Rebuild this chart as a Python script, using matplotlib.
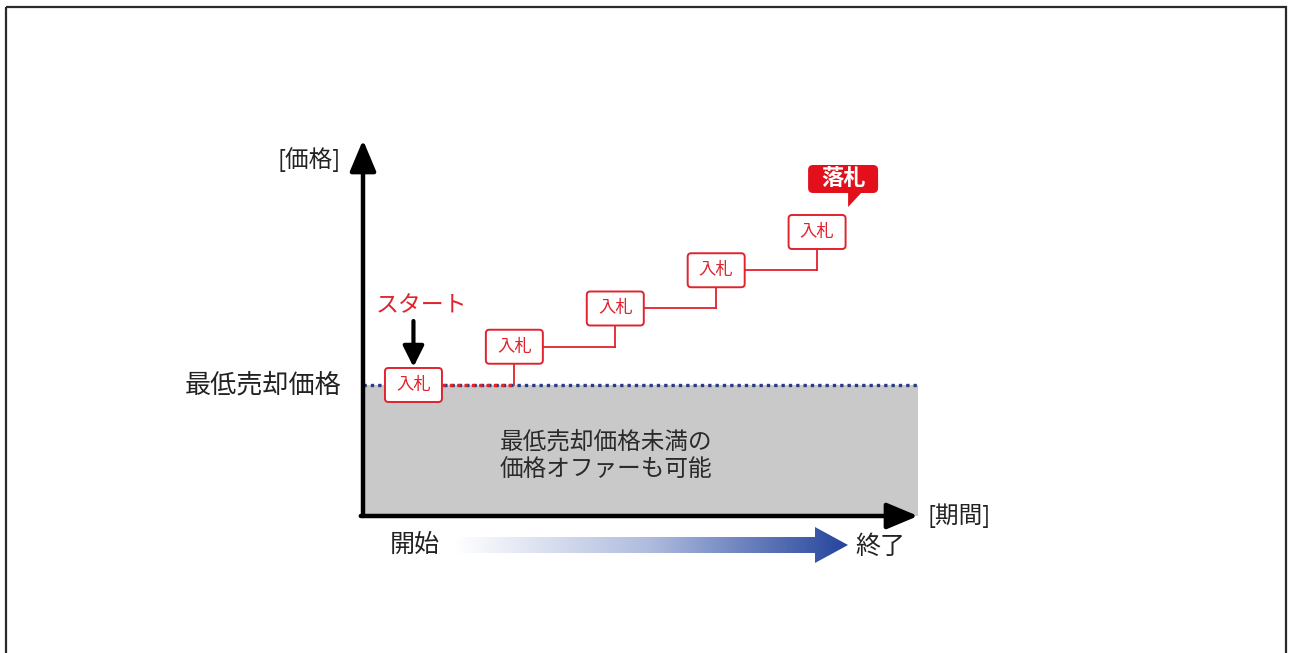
import numpy as np
import matplotlib
matplotlib.use('Agg')
import matplotlib.pyplot as plt
from matplotlib.patches import FancyBboxPatch, Polygon, Rectangle
from matplotlib.colors import LinearSegmentedColormap

plt.rcParams['font.family'] = ['Noto Sans CJK JP', 'DejaVu Sans']

# --------------------------------------------------------------
# Data
# --------------------------------------------------------------
bid_periods = [0.5, 1.5, 2.5, 3.5, 4.5]
bid_prices = [100, 110, 120, 130, 140]
reserve_price = 100
bid_label = '入札'
win_label = '落札'
start_label = 'スタート'
reserve_label = '最低売却価格'
below_label = '最低売却価格未満の\n価格オファーも可能'
y_label = '[価格]'
x_label = '[期間]'
begin_label = '開始'
end_label = '終了'

X_MAX = 5.5
Y_MIN, Y_MAX = 65.75, 164.05

RED = '#e0232d'
BLUE_DOT = '#2a3c82'
W, H = 1290, 653

fig = plt.figure(figsize=(W / 100, H / 100), dpi=100)

# background overlay in pixel coordinates (y down)
bg = fig.add_axes([0, 0, 1, 1])
bg.set_xlim(0, W)
bg.set_ylim(H, 0)
bg.axis('off')
bg.add_patch(Rectangle((6, 7), 1280, 680, fill=False, ec='#2a2a2a', lw=1.6))

# main chart axes
L, R, T, B = 363, 918, 140, 516
ax = fig.add_axes([L / W, (H - B) / H, (R - L) / W, (B - T) / H])
ax.set_xlim(0, X_MAX)
ax.set_ylim(Y_MIN, Y_MAX)
ax.patch.set_visible(False)
for s in ax.spines.values():
    s.set_visible(False)
ax.set_xticks([])
ax.set_yticks([])


def to_bg(x, y):
    dx, dy = ax.transData.transform((x, y))
    return dx, H - dy


# data units per pixel
px_x = X_MAX / (R - L)
px_y = (Y_MAX - Y_MIN) / (B - T)
box_w, box_h = 57 * px_x, 34 * px_y

# shaded zone below reserve price
ax.fill_between([0, X_MAX], Y_MIN, reserve_price, color='#c9c9c9', lw=0, zorder=1)
ax.plot([0, X_MAX], [reserve_price, reserve_price], color=BLUE_DOT, lw=2.4,
        ls=(0, (1, 1.2)), zorder=2)

# staircase connectors
for i in range(len(bid_periods) - 1):
    x0 = bid_periods[i] + box_w / 2
    x1 = bid_periods[i + 1]
    y0 = bid_prices[i]
    y1 = bid_prices[i + 1] - box_h / 2
    if i == 0:
        ax.plot([x0, x1], [y0, y0], color=RED, lw=2.4, ls=(0, (1, 1.2)), zorder=3)
    else:
        ax.plot([x0, x1], [y0, y0], color=RED, lw=1.3, zorder=3)
    ax.plot([x1, x1], [y0, y1], color=RED, lw=1.3, zorder=3)

# bid boxes
aspect = px_y / px_x
for t, p in zip(bid_periods, bid_prices):
    ax.add_patch(FancyBboxPatch((t - box_w / 2, p - box_h / 2), box_w, box_h,
                                boxstyle='round,pad=0,rounding_size=0.035',
                                mutation_aspect=aspect, fc='white', ec=RED,
                                lw=1.4, zorder=4))
    ax.text(t, p, bid_label, color=RED, fontsize=12.5, ha='center',
            va='center', zorder=5)

# axes arrows
arrow_kw = dict(arrowstyle='-|>,head_length=1.0,head_width=0.42', color='black',
                lw=3.2, mutation_scale=19, shrinkA=0, shrinkB=0)
ax.annotate('', xy=(0, 1), xytext=(0, 0), xycoords='axes fraction',
            arrowprops=arrow_kw, annotation_clip=False, zorder=6)
ax.annotate('', xy=(1, 0), xytext=(-0.004, 0), xycoords='axes fraction',
            arrowprops=arrow_kw, annotation_clip=False, zorder=6)

# labels
txt = '#222222'
ax.annotate(y_label, xy=(0, 1), xycoords='axes fraction', xytext=(-22, -20),
            textcoords='offset pixels', ha='right', va='center', fontsize=17,
            color=txt)
ax.annotate(reserve_label, xy=(0, reserve_price), xytext=(-22, 0),
            textcoords='offset pixels', ha='right', va='center', fontsize=18.8,
            color=txt)
ax.annotate(x_label, xy=(1, 0), xycoords='axes fraction', xytext=(10, 0),
            textcoords='offset pixels', ha='left', va='center', fontsize=17,
            color=txt)
ax.text(2.41, (Y_MIN + reserve_price) / 2 - 1.5, below_label, ha='center',
        va='center', fontsize=17, color='#2a2a2a', linespacing=1.3)
ax.annotate(begin_label, xy=(0, 0), xycoords='axes fraction', xytext=(52, -29),
            textcoords='offset pixels', ha='center', va='center', fontsize=18,
            color=txt, annotation_clip=False)
ax.annotate(end_label, xy=(1, 0), xycoords='axes fraction', xytext=(-38, -31),
            textcoords='offset pixels', ha='center', va='center', fontsize=18,
            color=txt, annotation_clip=False)

# start marker
sx, sy = to_bg(bid_periods[0], bid_prices[0])
bg.text(sx + 8, sy - 79, start_label, color=RED, fontsize=16.5, ha='center',
        va='center')
bg.annotate('', xy=(sx, sy - 18), xytext=(sx, sy - 64),
            arrowprops=dict(arrowstyle='-|>,head_length=0.9,head_width=0.45',
                            color='black', lw=3, mutation_scale=14,
                            shrinkA=0, shrinkB=0))

# winning callout
wx, wy = to_bg(bid_periods[-1], bid_prices[-1])
cx, cy = wx + 26, wy - 53
bg.add_patch(FancyBboxPatch((cx - 35, cy - 14), 70, 28,
                            boxstyle='round,pad=0,rounding_size=5',
                            fc='#e3101b', ec='none', zorder=5))
bg.add_patch(Polygon([(cx + 5, cy + 13), (cx + 19, cy + 13), (cx + 5, cy + 28)],
                     closed=True, fc='#e3101b', ec='none', zorder=5))
bg.text(cx, cy, win_label, color='white', fontsize=16, fontweight='bold',
        ha='center', va='center', zorder=6)

# gradient period arrow
ox, oy = to_bg(0, Y_MIN)
ay = oy + 29
tail, hb, tip = ox + 92, ox + 452, ox + 485
arrow_poly = Polygon([(tail, ay - 8), (hb, ay - 8), (hb, ay - 18), (tip, ay),
                      (hb, ay + 18), (hb, ay + 8), (tail, ay + 8)],
                     closed=True, fc='none', ec='none')
bg.add_patch(arrow_poly)
cmap = LinearSegmentedColormap.from_list('grad', ['#ffffff', '#aebbdd', '#25449c'])
grad = np.linspace(0, 1, 256).reshape(1, -1)
im = bg.imshow(grad, cmap=cmap, extent=(tail, tip, ay + 18, ay - 18),
               aspect='auto', zorder=2)
im.set_clip_path(arrow_poly)
bg.set_xlim(0, W)
bg.set_ylim(H, 0)

fig.savefig('out.png', dpi=100)
